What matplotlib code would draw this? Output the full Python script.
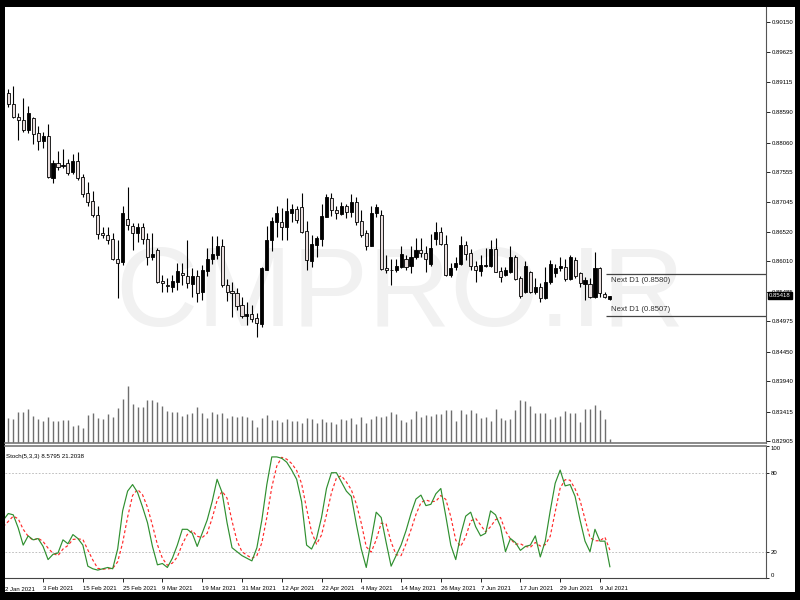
import matplotlib
matplotlib.use("Agg")
import matplotlib.pyplot as plt
from matplotlib.patches import Rectangle
import matplotlib.transforms as mtransforms
from matplotlib import font_manager
import numpy as np

# ---------------- data ----------------
opens = [0.8893, 0.8874, 0.8851, 0.8846, 0.8829, 0.8849, 0.8823, 0.8810, 0.8818, 0.8746,
         0.8771, 0.8766, 0.8771, 0.8756, 0.8775, 0.8747, 0.8720, 0.8706, 0.8682, 0.8650,
         0.8646, 0.8639, 0.8606, 0.8600, 0.8674, 0.8663, 0.8651, 0.8661, 0.8639, 0.8609,
         0.8621, 0.8567, 0.8560, 0.8557, 0.8566, 0.8581, 0.8575, 0.8562, 0.8576, 0.8549,
         0.8585, 0.8606, 0.8612, 0.8628, 0.8561, 0.8550, 0.8547, 0.8526, 0.8507, 0.8510,
         0.8504, 0.8492, 0.8587, 0.8638, 0.8670, 0.8670, 0.8661, 0.8685, 0.8691, 0.8695,
         0.8654, 0.8602, 0.8629, 0.8640, 0.8678, 0.8710, 0.8690, 0.8683, 0.8697, 0.8687,
         0.8704, 0.8671, 0.8650, 0.8628, 0.8684, 0.8681, 0.8589, 0.8587, 0.8587, 0.8592,
         0.8605, 0.8593, 0.8609, 0.8620, 0.8615, 0.8597, 0.8639, 0.8652, 0.8632, 0.8578,
         0.8592, 0.8597, 0.8629, 0.8616, 0.8593, 0.8585, 0.8593, 0.8593, 0.8622, 0.8584,
         0.8578, 0.8582, 0.8609, 0.8572, 0.8549, 0.8583, 0.8549, 0.8557, 0.8537, 0.8566,
         0.8581, 0.8589, 0.8592, 0.8570, 0.8604, 0.8581, 0.8562, 0.8562, 0.8539, 0.8589,
         0.8545, 0.8536]
highs = [0.8899, 0.8904, 0.8857, 0.8883, 0.8869, 0.8851, 0.8835, 0.8825, 0.8838, 0.8776,
         0.8792, 0.8795, 0.8778, 0.8787, 0.8791, 0.8752, 0.8739, 0.8722, 0.8697, 0.8661,
         0.8661, 0.8650, 0.8638, 0.8696, 0.8729, 0.8668, 0.8667, 0.8667, 0.8651, 0.8651,
         0.8624, 0.8578, 0.8572, 0.8578, 0.8599, 0.8598, 0.8638, 0.8589, 0.8586, 0.8595,
         0.8625, 0.8645, 0.8645, 0.8640, 0.8570, 0.8566, 0.8555, 0.8540, 0.8531, 0.8526,
         0.8511, 0.8592, 0.8662, 0.8678, 0.8697, 0.8693, 0.8710, 0.8701, 0.8696, 0.8719,
         0.8671, 0.8647, 0.8645, 0.8701, 0.8718, 0.8719, 0.8697, 0.8704, 0.8701, 0.8718,
         0.8712, 0.8690, 0.8655, 0.8696, 0.8701, 0.8690, 0.8612, 0.8605, 0.8606, 0.8627,
         0.8612, 0.8627, 0.8641, 0.8641, 0.8627, 0.8648, 0.8670, 0.8660, 0.8647, 0.8598,
         0.8609, 0.8645, 0.8637, 0.8622, 0.8601, 0.8612, 0.8625, 0.8638, 0.8641, 0.8591,
         0.8592, 0.8627, 0.8612, 0.8575, 0.8601, 0.8585, 0.8572, 0.8563, 0.8592, 0.8604,
         0.8597, 0.8609, 0.8606, 0.8612, 0.8609, 0.8583, 0.8574, 0.8572, 0.8618, 0.8592,
         0.8549, 0.85418]
lows = [0.8868, 0.8849, 0.8811, 0.8825, 0.8823, 0.8804, 0.8794, 0.8797, 0.8746, 0.8737,
        0.8759, 0.8762, 0.8750, 0.8753, 0.8742, 0.8713, 0.8696, 0.8678, 0.8639, 0.8641,
        0.8631, 0.8604, 0.8537, 0.8595, 0.8655, 0.8621, 0.8635, 0.8632, 0.8595, 0.8604,
        0.8563, 0.8549, 0.8549, 0.8549, 0.8552, 0.8560, 0.8555, 0.8540, 0.8531, 0.8534,
        0.8576, 0.8597, 0.8605, 0.8557, 0.8533, 0.8505, 0.8517, 0.8503, 0.8491, 0.8497,
        0.8471, 0.8488, 0.8586, 0.8619, 0.8644, 0.8638, 0.8638, 0.8670, 0.8667, 0.8650,
        0.8587, 0.8592, 0.8609, 0.8628, 0.8677, 0.8680, 0.8674, 0.8681, 0.8676, 0.8678,
        0.8664, 0.8644, 0.8621, 0.8627, 0.8678, 0.8586, 0.8581, 0.8560, 0.8583, 0.8589,
        0.8586, 0.8581, 0.8606, 0.8609, 0.8583, 0.8593, 0.8629, 0.8629, 0.8576, 0.8574,
        0.8586, 0.8595, 0.8604, 0.8587, 0.8566, 0.8575, 0.8591, 0.8591, 0.8582, 0.8566,
        0.8576, 0.8581, 0.8569, 0.8537, 0.8546, 0.8546, 0.8545, 0.8531, 0.8536, 0.8562,
        0.8574, 0.8585, 0.8568, 0.8569, 0.8572, 0.8557, 0.8534, 0.8537, 0.8537, 0.8540,
        0.8537, 0.8534]
closes = [0.8873, 0.8850, 0.8846, 0.8828, 0.8857, 0.8821, 0.8810, 0.8818, 0.8747, 0.8771,
          0.8765, 0.8768, 0.8754, 0.8775, 0.8745, 0.8718, 0.8703, 0.8681, 0.8648, 0.8647,
          0.8638, 0.8606, 0.8599, 0.8684, 0.8664, 0.8651, 0.8661, 0.8639, 0.8609, 0.8613,
          0.8566, 0.8563, 0.8559, 0.8567, 0.8584, 0.8578, 0.8563, 0.8576, 0.8547, 0.8586,
          0.8606, 0.8614, 0.8628, 0.8560, 0.8549, 0.8547, 0.8524, 0.8507, 0.8510, 0.8501,
          0.8494, 0.8589, 0.8638, 0.8671, 0.8685, 0.8661, 0.8688, 0.8691, 0.8673, 0.8652,
          0.8604, 0.8631, 0.8641, 0.8680, 0.8713, 0.8690, 0.8684, 0.8697, 0.8687, 0.8703,
          0.8669, 0.8647, 0.8628, 0.8685, 0.8695, 0.8588, 0.8586, 0.8586, 0.8593, 0.8613,
          0.8592, 0.8609, 0.8621, 0.8616, 0.8605, 0.8625, 0.8652, 0.8632, 0.8578, 0.8589,
          0.8599, 0.8629, 0.8614, 0.8593, 0.8586, 0.8595, 0.8595, 0.8622, 0.8583, 0.8574,
          0.8586, 0.8609, 0.8570, 0.8541, 0.8593, 0.8549, 0.8557, 0.8537, 0.8566, 0.8597,
          0.8589, 0.8593, 0.8570, 0.8609, 0.8575, 0.8563, 0.8569, 0.8539, 0.8589, 0.8546,
          0.8540, 0.85418]
volumes = [25, 24, 31, 31, 34, 27, 24, 22, 26, 22,
           22, 23, 23, 17, 18, 15, 28, 30, 25, 24,
           29, 26, 35, 44, 57, 39, 36, 36, 43, 43,
           41, 37, 32, 31, 31, 27, 29, 30, 36, 30,
           25, 31, 29, 30, 25, 27, 26, 27, 26, 23,
           16, 25, 28, 23, 23, 21, 24, 22, 22, 20,
           25, 24, 20, 24, 21, 21, 19, 24, 23, 25,
           19, 26, 20, 24, 27, 26, 27, 31, 29, 23,
           21, 24, 32, 26, 28, 27, 29, 29, 33, 33,
           22, 33, 29, 33, 30, 25, 26, 22, 34, 25,
           23, 24, 33, 43, 42, 37, 30, 30, 30, 24,
           26, 27, 32, 30, 30, 21, 34, 34, 38, 33,
           24, 4]
# stochastic starts one bar before the first visible candle
stoch_k = [44, 49, 48, 38, 25, 32, 29, 30, 24, 14, 18,
           19, 29, 26, 33, 30, 25, 9, 7, 6, 7,
           8, 7, 22, 51, 66, 71, 65, 54, 42, 24,
           10, 11, 8, 15, 25, 37, 37, 34, 24, 34,
           44, 58, 75, 65, 42, 23, 20, 17, 15, 13,
           23, 44, 71, 92, 92, 91, 88, 82, 75, 58,
           25, 22, 30, 46, 68, 80, 80, 73, 66, 62,
           41, 22, 8, 29, 50, 46, 27, 9, 17, 25,
           36, 49, 60, 63, 55, 56, 64, 68, 47, 25,
           14, 33, 47, 50, 39, 32, 34, 51, 48, 39,
           20, 30, 27, 21, 24, 25, 32, 16, 28, 51,
           72, 82, 70, 71, 62, 44, 28, 20, 37, 28,
           28, 8.5795]
stoch_d = [39, 43, 47, 45, 37, 31.7, 28.7, 30.3, 27.7, 22.7, 18.7,
           17, 22, 24.7, 29.3, 29.7, 29.3, 21.3, 13.7, 7.3, 6.7,
           7, 7.3, 12.3, 26.7, 46.3, 62.7, 67.3, 63.3, 53.7, 40,
           25.3, 15, 9.7, 11.3, 16, 25.7, 33, 36, 31.7, 30.7,
           34, 45.3, 59, 66, 60.7, 43.3, 28.3, 20, 17.3, 15,
           17, 26.7, 46, 69, 85, 91.7, 90.3, 87, 81.7, 71.7,
           52.7, 35, 25.7, 32.7, 48, 64.7, 76, 77.7, 73, 67,
           56.3, 41.7, 23.7, 19.7, 29, 41.7, 41, 27.3, 17.7, 17,
           26, 36.7, 48.3, 57.3, 59.3, 58, 58.3, 62.7, 59.7, 46.7,
           28.7, 24, 31.3, 43.3, 45.3, 40.3, 35, 39, 44.3, 46,
           35.7, 29.7, 25.7, 26, 24, 23.3, 27, 24.3, 25.3, 31.7,
           50.3, 68.3, 74.7, 74.3, 67.7, 59, 44.7, 30.7, 28.3, 28.3,
           31, 21.2038]
price_ticks = [0.90150, 0.89625, 0.89115, 0.88590, 0.88060, 0.87555, 0.87045, 0.86520,
               0.86010, 0.85485, 0.84975, 0.84450, 0.83940, 0.83415, 0.82905]
date_pos = [7, 15, 23, 31, 39, 47, 55, 63, 71, 79, 87, 95, 103, 111, 119]
date_labels = ["3 Feb 2021", "15 Feb 2021", "25 Feb 2021", "9 Mar 2021", "19 Mar 2021",
               "31 Mar 2021", "12 Apr 2021", "22 Apr 2021", "4 May 2021", "14 May 2021",
               "26 May 2021", "7 Jun 2021", "17 Jun 2021", "29 Jun 2021", "9 Jul 2021"]
first_date_label = "2 Jan 2021"
next_d1_high = 0.8580
next_d1_low = 0.8507
current_price = 0.85418
stoch_title = "Stoch(5,3,3) 8.5795 21.2038"
watermark = "CMPRO.IR"

# ---------------- style ----------------
installed = {f.name for f in font_manager.fontManager.ttflist}
FONT = "Liberation Sans" if "Liberation Sans" in installed else "DejaVu Sans"
WM_FONT = "Liberation Sans Narrow" if "Liberation Sans Narrow" in installed else FONT
plt.rcParams["font.family"] = [FONT, "DejaVu Sans"]

W, H = 800, 600
fig = plt.figure(figsize=(8, 6), dpi=100, facecolor="black")
fig.patches.append(Rectangle((5 / W, 1 - 592 / H), 790 / W, 585 / H,
                             transform=fig.transFigure, facecolor="white",
                             edgecolor="none", zorder=-10))


def rect(x0, y0, x1, y1):
    return [x0 / W, 1 - y1 / H, (x1 - x0) / W, (y1 - y0) / H]


axv = fig.add_axes(rect(5, 7, 766, 443))
ax = fig.add_axes(rect(5, 7, 766, 443))
axs = fig.add_axes(rect(5, 446, 766, 578))
for a in (axv, ax, axs):
    a.set_facecolor("none")

idx = np.arange(len(opens))
o = np.array(opens); h = np.array(highs); l = np.array(lows); c = np.array(closes)
xlim = (-0.66, 152.4)

# volume
axv.vlines(idx, 0, volumes, color="#6e6e6e", lw=1.0)
axv.set_xlim(xlim)
axv.set_ylim(0, 436)
axv.axis("off")

# watermark
ax.text(0.519, 0.335, watermark, transform=ax.transAxes, ha="center", va="center",
        fontsize=82, color="#f1f1f1", family=WM_FONT, zorder=0)

# candles
bull = c >= o
ax.vlines(idx, l, h, color="black", lw=0.8, zorder=2)
body_lo = np.minimum(o, c)
body_h = np.maximum(np.abs(c - o), 0.00004)
ax.bar(idx, body_h, bottom=body_lo, width=0.62,
       color=np.where(bull, "black", "#e9dfdf"), edgecolor="black",
       linewidth=0.6, zorder=3)

ax.set_xlim(xlim)
ax.set_ylim(0.82871, 0.90409)
ax.yaxis.tick_right()
ax.set_yticks(price_ticks)
ax.set_yticklabels([f"{p:.5f}" for p in price_ticks])
ax.tick_params(axis="y", direction="out", length=3, width=0.6, pad=1.5,
               labelsize=4.3, colors="black")
ax.tick_params(axis="x", bottom=False, labelbottom=False)
for s in ("left", "top"):
    ax.spines[s].set_visible(False)
ax.spines["right"].set_color("#555555")
ax.spines["right"].set_linewidth(0.8)
ax.spines["bottom"].set_color("#777777")
ax.spines["bottom"].set_linewidth(1.2)

# Next D1 lines
for lvl, va, dy in ((next_d1_high, "top", -0.00055), (next_d1_low, "bottom", 0.00055)):
    ax.hlines(lvl, 120.2, xlim[1], color="#444444", lw=0.9, zorder=4)
    ax.text(121.2, lvl + dy, f"Next D1 ({lvl:.4f})", fontsize=5.6, color="#333333",
            va=va, ha="left", zorder=4)

# current price box
cp_tr = mtransforms.blended_transform_factory(ax.transAxes, ax.transData)
ax.text(1.004, current_price, f"{current_price:.5f}", transform=cp_tr, fontsize=4.3,
        color="white", va="center", ha="left", zorder=10, clip_on=False,
        bbox=dict(boxstyle="square,pad=0.15", facecolor="black", edgecolor="black"))

# stochastic panel
sx = np.arange(-1, len(stoch_k) - 1)
axs.axhline(80, color="#b5b5b5", lw=0.6, ls=(0, (2, 2)))
axs.axhline(20, color="#b5b5b5", lw=0.6, ls=(0, (2, 2)))
axs.plot(sx, stoch_k, color="#2f8f2f", lw=0.85, zorder=3)
axs.plot(sx, stoch_d, color="#ff2a2a", lw=0.85, ls=(0, (2.5, 2)), zorder=2)
axs.set_xlim(xlim)
axs.set_ylim(0, 100.3)
axs.yaxis.tick_right()
axs.set_yticks([100, 80, 20, 0])
axs.set_yticklabels(["100", "80", "20", "0"])
axs.tick_params(axis="y", direction="out", length=2, width=0.6, pad=1.5,
                labelsize=4.3, colors="black")
ylabs = axs.get_yticklabels()
ylabs[0].set_va("top")
ylabs[-1].set_va("bottom")
axs.set_xticks(date_pos)
axs.set_xticklabels(date_labels, ha="left")
axs.tick_params(axis="x", direction="out", length=3, width=0.6, pad=2.5,
                labelsize=4.3, colors="black")
axs.text(0.0, -0.07, first_date_label, transform=axs.transAxes, fontsize=4.3,
         ha="left", va="top")
axs.spines["left"].set_visible(False)
axs.spines["top"].set_color("#777777")
axs.spines["top"].set_linewidth(1.2)
axs.spines["right"].set_color("#555555")
axs.spines["right"].set_linewidth(0.8)
axs.spines["bottom"].set_color("#444444")
axs.spines["bottom"].set_linewidth(0.8)
axs.text(0.0015, 0.94, stoch_title, transform=axs.transAxes, fontsize=4.4,
         ha="left", va="top", color="black")

fig.savefig("out.png", dpi=100, facecolor="black")
